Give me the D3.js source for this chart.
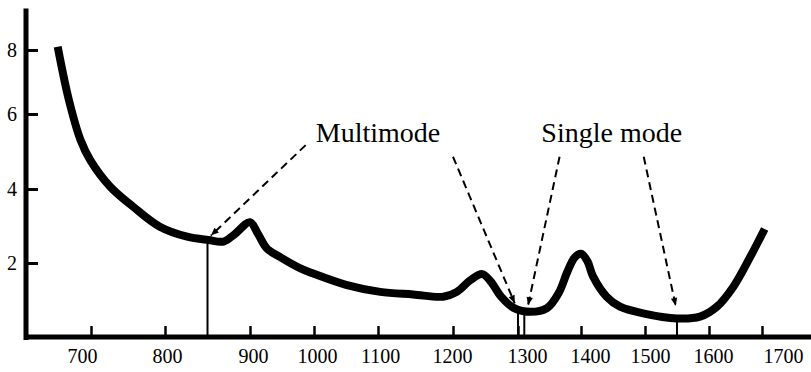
<!DOCTYPE html>
<html>
<head>
<meta charset="utf-8">
<script src="https://cdn.jsdelivr.net/npm/d3@7"></script>
<style>
  html, body { margin: 0; padding: 0; background: #fff; }
  svg { display: block; font-family: 'Liberation Serif', 'Times New Roman', serif; }
</style>
</head>
<body>
<div id="chart"></div>
<script>
// Fibre attenuation vs wavelength (nm), with the multimode / single mode windows

// x tick values and y tick values
const xTicks = [700, 800, 900, 1000, 1100, 1200, 1300, 1400, 1500, 1600, 1700]
const yTicks = [2, 4, 6, 8]

// attenuation curve
const wavelength = [655, 670, 686, 699, 726, 757, 793, 826, 851, 869, 882, 900, 912, 926, 946, 978, 998,
  1050, 1103, 1147, 1187, 1206, 1227, 1245, 1258, 1274, 1294, 1320, 1346, 1365, 1378, 1390, 1400,
  1410, 1419, 1440, 1461, 1497, 1550, 1586, 1615, 1646, 1678, 1705]
const attenuation = [8.1, 6.45, 5.3, 4.77, 4.06, 3.52, 2.98, 2.71, 2.62, 2.58, 2.78, 3.1, 2.8, 2.4, 2.17, 1.86, 1.72,
  1.41, 1.22, 1.15, 1.09, 1.22, 1.54, 1.7, 1.5, 1.09, 0.78, 0.68, 0.78, 1.2, 1.75, 2.15, 2.25,
  2.05, 1.63, 1.09, 0.82, 0.64, 0.5, 0.55, 0.82, 1.36, 2.17, 2.92]

// transmission windows (vertical drop lines)
const windowNm = [850, 1300, 1310, 1550]
const windowLoss = [2.62, 0.73, 0.7, 0.5]

// annotation labels and their arrows
const labelText = ['Multimode', 'Single mode']
const labelAt = [[1100, 5.25], [1448, 5.26]]
const arrowFrom = [[987, 5.17], [1200, 4.86], [1366, 4.86], [1498, 4.86]]
const arrowTo = [[854, 2.74], [1295, 0.91], [1316, 0.86], [1548, 0.84]]

const width = 811
const height = 372

// the drawing's axes are not evenly spaced, so the scales are piecewise
const x = d3.scaleLinear()
  .domain(xTicks)
  .range([91, 165, 250, 314, 378, 453, 518, 581, 645, 709, 762])

const xLabel = d3.scaleLinear()
  .domain(xTicks)
  .range([82, 167, 253, 317, 380, 452, 527, 590, 650, 713, 783])

const y = d3.scaleLinear()
  .domain([0, 2, 4, 6, 8])
  .range([337, 263, 189, 114, 50])

const axisX0 = 26

const svg = d3.select('#chart')
  .append('svg')
  .attr('width', width)
  .attr('height', height)
  .attr('viewBox', `0 0 ${width} ${height}`)

const defs = svg.append('defs')
defs.append('marker')
  .attr('id', 'arrowhead')
  .attr('viewBox', '-10 -5 10 10')
  .attr('refX', 0)
  .attr('refY', 0)
  .attr('markerUnits', 'userSpaceOnUse')
  .attr('markerWidth', 10)
  .attr('markerHeight', 8)
  .attr('orient', 'auto')
  .append('path')
  .attr('d', 'M-10,-4 L0,0 L-10,4 Z')
  .attr('fill', '#000')

// Window drop lines
svg.append('g')
  .selectAll('line')
  .data(windowNm.map((d, i) => [d, windowLoss[i]]))
  .join('line')
  .attr('x1', d => x(d[0]))
  .attr('x2', d => x(d[0]))
  .attr('y1', y(0))
  .attr('y2', d => y(d[1]))
  .attr('stroke', '#000')
  .attr('stroke-width', 2)

// Attenuation curve
const line = d3.line()
  .x(d => x(d[0]))
  .y(d => y(d[1]))
  .curve(d3.curveCatmullRom.alpha(0.5))

svg.append('path')
  .datum(wavelength.map((d, i) => [d, attenuation[i]]))
  .attr('d', line)
  .attr('fill', 'none')
  .attr('stroke', '#000')
  .attr('stroke-width', 8)
  .attr('stroke-linejoin', 'round')

// Dashed arrows from the labels
svg.append('g')
  .selectAll('line')
  .data(arrowFrom.map((d, i) => [d, arrowTo[i]]))
  .join('line')
  .attr('x1', d => x(d[0][0]))
  .attr('y1', d => y(d[0][1]))
  .attr('x2', d => x(d[1][0]))
  .attr('y2', d => y(d[1][1]))
  .attr('stroke', '#000')
  .attr('stroke-width', 2)
  .attr('stroke-dasharray', '8,5')
  .attr('marker-end', 'url(#arrowhead)')

svg.append('g')
  .selectAll('text')
  .data(labelText)
  .join('text')
  .attr('x', (d, i) => x(labelAt[i][0]))
  .attr('y', (d, i) => y(labelAt[i][1]))
  .attr('text-anchor', 'middle')
  .attr('font-size', '28px')
  .attr('fill', '#000')
  .text(d => d)

// Y axis
const yAxis = svg.append('g')
  .attr('transform', `translate(${axisX0},0)`)
  .call(d3.axisLeft(y).tickValues(yTicks).tickSize(-12).tickPadding(9).tickFormat(d3.format('d')))
yAxis.select('.domain').remove()
yAxis.selectAll('.tick line').attr('stroke-width', 3)
yAxis.selectAll('.tick text')
  .attr('font-size', '20px')
  .attr('font-family', 'Liberation Serif, serif')
  .attr('fill', '#000')

// X axis ticks (inside) and labels (their own spacing)
const xAxis = svg.append('g')
  .attr('transform', `translate(0,${y(0)})`)
  .call(d3.axisBottom(x).tickValues(xTicks).tickSize(-11).tickFormat(''))
xAxis.select('.domain').remove()
xAxis.selectAll('.tick line').attr('stroke-width', 2.5)

const xLabels = svg.append('g')
  .attr('transform', `translate(0,${y(0)})`)
  .call(d3.axisBottom(xLabel).tickValues(xTicks).tickSize(0).tickPadding(12).tickFormat(d3.format('d')))
xLabels.select('.domain').remove()
xLabels.selectAll('.tick text')
  .attr('font-size', '20px')
  .attr('font-family', 'Liberation Serif, serif')
  .attr('fill', '#000')

// Axis lines
svg.append('line')
  .attr('x1', axisX0).attr('x2', axisX0)
  .attr('y1', y(9.3)).attr('y2', y(0) + 3)
  .attr('stroke', '#000')
  .attr('stroke-width', 5)

svg.append('line')
  .attr('x1', axisX0 - 2).attr('x2', width)
  .attr('y1', y(0)).attr('y2', y(0))
  .attr('stroke', '#000')
  .attr('stroke-width', 5)
</script>
</body>
</html>
